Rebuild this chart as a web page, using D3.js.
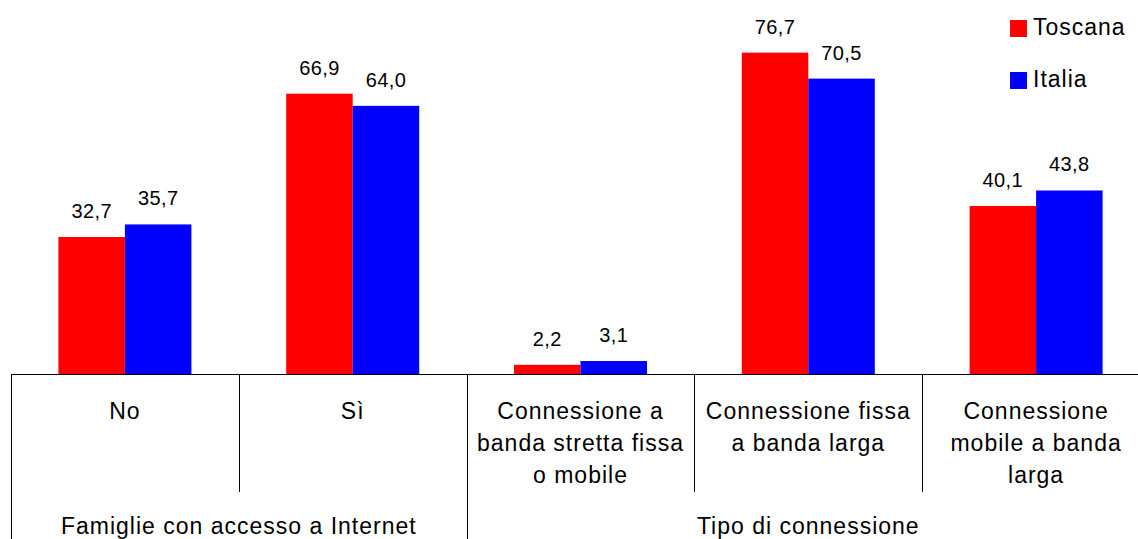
<!DOCTYPE html>
<html>
<head>
<meta charset="utf-8">
<script src="https://cdn.jsdelivr.net/npm/d3@7"></script>
<style>
  html, body { margin: 0; padding: 0; background: #fff; }
  svg { display: block; font-family: "Liberation Sans", Arial, sans-serif; }
</style>
</head>
<body>
<svg id="chart" width="1138" height="539"></svg>
<script>
// ---- data ----
const categories = [
  ["No"],
  ["Sì"],
  ["Connessione a", "banda stretta fissa", "o mobile"],
  ["Connessione fissa", "a banda larga"],
  ["Connessione", "mobile a banda", "larga"]
];
const groups = ["Famiglie con accesso a Internet", "Tipo di connessione"];
const groupSpan = [[0, 1], [2, 4]];
const seriesNames = ["Toscana", "Italia"];
const toscana = [32.7, 66.9, 2.2, 76.7, 40.1];
const italia = [35.7, 64.0, 3.1, 70.5, 43.8];
const seriesColors = ["#ff0000", "#0000ff"];

// ---- layout ----
const svg = d3.select("#chart");
const baseY = 374, left = 11, right = 1150;
const barW = 66.5;
const catIdx = categories.map((d, i) => i);
const x0 = d3.scaleBand().domain(catIdx).range([left, right]).paddingInner(0).paddingOuter(0);
const bw = x0.bandwidth();
const x1 = d3.scaleBand().domain(seriesNames).range([bw / 2 - barW, bw / 2 + barW]).padding(0);
const y = d3.scaleLinear().domain([0, 90]).range([baseY, baseY - 90 * 4.19]);
const fmt = v => d3.format(".1f")(v).replace(".", ",");

const values = [toscana, italia];

// bars
seriesNames.forEach((s, si) => {
  svg.append("g").selectAll("rect").data(values[si]).join("rect")
    .attr("x", (d, i) => x0(i) + x1(s))
    .attr("width", x1.bandwidth())
    .attr("y", d => y(d))
    .attr("height", d => baseY - y(d))
    .attr("fill", seriesColors[si]);
  svg.append("g").selectAll("text").data(values[si]).join("text")
    .attr("x", (d, i) => x0(i) + x1(s) + x1.bandwidth() / 2)
    .attr("y", d => y(d) - 19)
    .attr("text-anchor", "middle")
    .attr("font-size", 20)
    .attr("letter-spacing", 0.4)
    .attr("fill", "#000")
    .text(d => fmt(d));
});

// axis lines
const axisG = svg.append("g").attr("stroke", "#000").attr("stroke-width", 1).attr("shape-rendering", "crispEdges");
axisG.append("line").attr("x1", left).attr("x2", 1138).attr("y1", baseY + 0.5).attr("y2", baseY + 0.5);
// category boundaries
catIdx.concat([categories.length]).forEach(i => {
  const xx = i < categories.length ? x0(i) : right;
  const isGroupEdge = groupSpan.some(g => g[0] === i) || i === categories.length;
  axisG.append("line")
    .attr("x1", Math.round(xx) + 0.5).attr("x2", Math.round(xx) + 0.5)
    .attr("y1", baseY).attr("y2", isGroupEdge ? 539 : 492);
});

// category labels
const catLabels = svg.append("g").attr("font-size", 23).attr("letter-spacing", 1).attr("fill", "#000").attr("text-anchor", "middle");
categories.forEach((lines, i) => {
  const t = catLabels.append("text").attr("x", x0(i) + bw / 2).attr("y", 419);
  lines.forEach((ln, li) => {
    t.append("tspan").attr("x", x0(i) + bw / 2).attr("y", 419 + li * 32).text(ln);
  });
});

// group labels
groups.forEach((g, gi) => {
  const a = x0(groupSpan[gi][0]);
  const b = x0(groupSpan[gi][1]) + bw;
  svg.append("text")
    .attr("x", (a + b) / 2).attr("y", 534)
    .attr("text-anchor", "middle")
    .attr("font-size", 23).attr("letter-spacing", 1)
    .attr("fill", "#000")
    .text(g);
});

// legend
const legend = svg.append("g");
seriesNames.forEach((s, si) => {
  const ly = 20 + si * 52;
  legend.append("rect").attr("x", 1010).attr("y", ly).attr("width", 17).attr("height", 17).attr("fill", seriesColors[si]);
  legend.append("text").attr("x", 1033).attr("y", ly + 14.5)
    .attr("font-size", 23).attr("letter-spacing", 1).attr("fill", "#000").text(s);
});
</script>
</body>
</html>
